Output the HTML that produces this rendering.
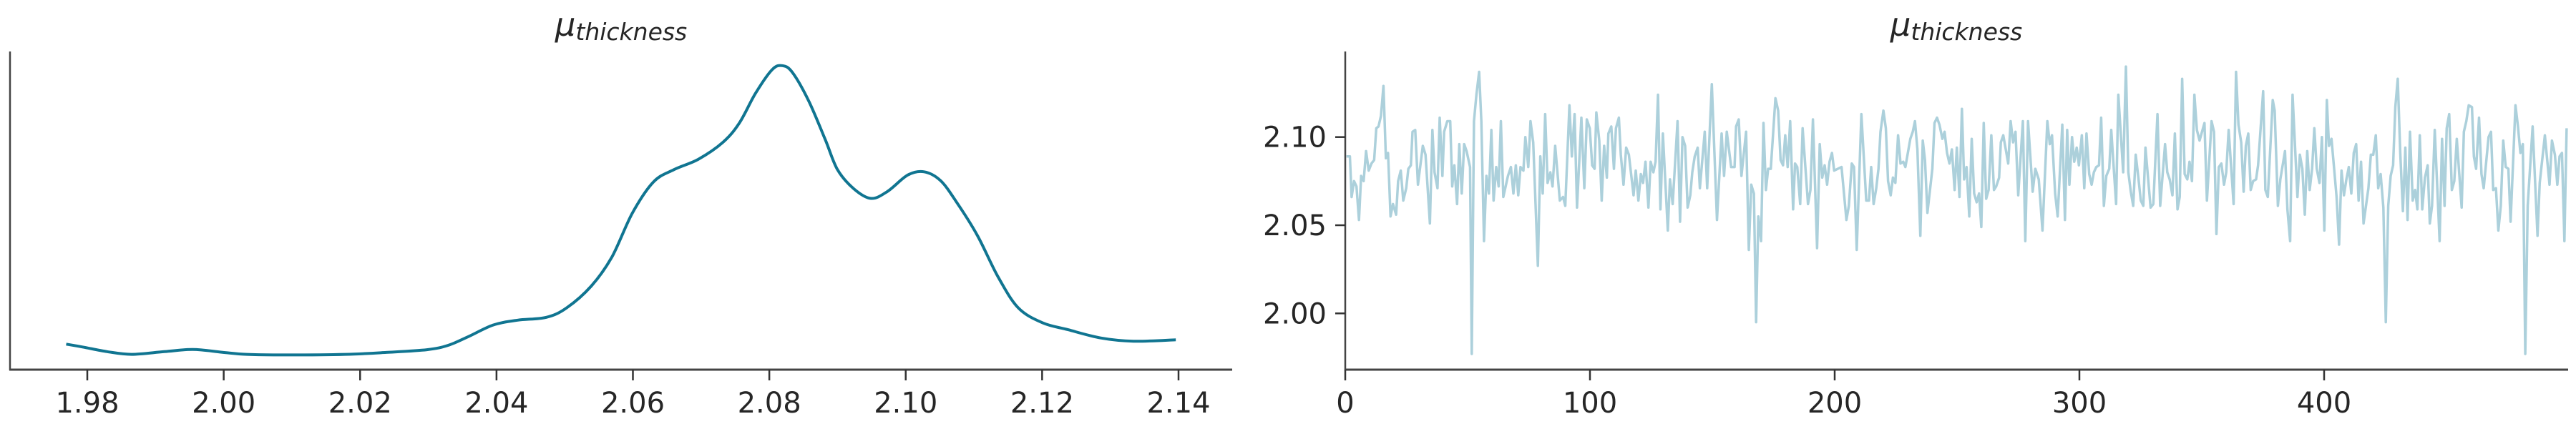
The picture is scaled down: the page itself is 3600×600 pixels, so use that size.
<!DOCTYPE html>
<html><head><meta charset="utf-8"><style>
html,body{margin:0;padding:0;background:#fff;}
svg{display:block;}
text{font-family:"DejaVu Sans","Liberation Sans",sans-serif;fill:#262626;}
</style></head><body>
<svg id="chart" width="3600" height="600" viewBox="0 0 3600 600" xmlns="http://www.w3.org/2000/svg">
<g id="left">
 <text x="868" y="50" text-anchor="middle"><tspan font-style="italic" font-size="45">μ</tspan><tspan font-style="italic" font-size="33" dy="6">thickness</tspan></text>
 <line x1="14" y1="72" x2="14" y2="518" stroke="#444" stroke-width="2.5"/>
 <line x1="13" y1="517" x2="1722" y2="517" stroke="#444" stroke-width="3"/>
 <g id="lticks"></g>
 <path id="kde" fill="none" stroke="#107591" stroke-width="4" stroke-linejoin="round"/>
</g>
<g id="right">
 <text x="2734" y="50" text-anchor="middle"><tspan font-style="italic" font-size="45">μ</tspan><tspan font-style="italic" font-size="33" dy="6">thickness</tspan></text>
 <line x1="1880" y1="72" x2="1880" y2="518" stroke="#444" stroke-width="2.5"/>
 <line x1="1879" y1="517" x2="3589" y2="517" stroke="#444" stroke-width="3"/>
 <g id="rticks"></g>
 <path id="trace" fill="none" stroke="#acd0db" stroke-width="3.5" stroke-linejoin="round"/>
</g>
</svg>
<script>
const kdeX = [1.9769,1.9793,1.9829,1.9865,1.9913,1.9955,1.9997,2.0034,2.0094,2.0178,2.0238,2.0298,2.0329,2.0359,2.0395,2.0431,2.0473,2.0503,2.0539,2.0569,2.0599,2.0630,2.0660,2.0696,2.0732,2.0756,2.0780,2.0804,2.0819,2.0834,2.0858,2.0882,2.0900,2.0924,2.0949,2.0973,2.1003,2.1027,2.1051,2.1075,2.1105,2.1135,2.1165,2.1201,2.1238,2.1286,2.1334,2.1396];
const kdeY = [2.35,2.09,1.66,1.41,1.66,1.86,1.61,1.41,1.36,1.41,1.59,1.84,2.24,3.05,4.11,4.56,4.82,5.70,7.71,10.36,14.40,17.29,18.43,19.39,20.95,22.72,25.49,27.63,28.01,27.38,24.73,21.20,18.43,16.66,15.78,16.41,17.93,18.23,17.42,15.40,12.38,8.60,5.70,4.31,3.68,2.92,2.62,2.75];
const kdeTicks = [1.98,2.00,2.02,2.04,2.06,2.08,2.10,2.12,2.14];
const traceIter = [0.5,1.9,2.6,3.6,4.6,5.6,6.5,7.5,8.5,9.6,10.7,11.8,12.7,13.6,14.6,15.6,16.6,17.5,18.5,19.5,20.8,21.6,22.7,23.7,24.9,25.8,26.8,27.5,28.6,29.7,31.7,32.8,34.6,35.6,36.5,37.7,38.6,39.7,40.4,41.7,42.9,43.7,44.6,45.7,46.6,47.6,48.6,49.6,51.0,51.7,52.6,53.6,54.7,55.6,56.7,57.7,58.7,59.7,60.6,61.7,62.7,63.6,64.6,66.5,67.7,68.7,69.7,70.7,71.6,72.8,73.6,74.8,75.7,76.8,78.7,79.7,80.7,81.7,82.7,83.8,84.7,85.8,87.7,89.0,89.9,91.6,92.6,93.7,94.7,96.5,97.7,98.7,99.9,100.9,
101.9,102.6,103.8,104.8,105.8,106.9,107.5,108.7,109.8,110.6,111.8,112.6,113.7,114.8,115.9,117.8,118.7,119.8,120.8,121.7,122.7,123.9,124.8,125.9,126.8,127.8,128.8,129.8,131.8,132.7,133.8,135.8,136.8,137.8,138.9,139.9,141.0,141.8,142.8,144.0,144.9,146.9,147.9,149.8,151.9,153.8,154.8,155.9,157.7,159.1,159.7,160.8,161.9,163.8,164.9,165.9,167.0,167.9,168.8,169.9,170.9,171.9,172.8,173.9,175.8,176.9,177.9,178.9,179.8,180.8,181.8,183.0,183.8,184.7,185.9,186.9,189.1,190.1,191.1,192.8,193.9,194.9,195.9,196.9,197.9,198.9,199.8,
202.8,204.8,205.8,207.0,207.9,209.0,210.9,212.9,214.0,214.9,215.9,217.0,217.9,218.7,219.9,220.9,221.8,222.9,223.8,224.8,225.9,226.9,228.0,228.9,230.9,231.9,232.8,233.8,235.0,236.0,236.9,237.9,239.9,240.8,241.8,242.8,244.0,244.9,245.9,246.9,247.9,249.0,249.9,251.0,252.0,252.9,253.9,255.0,256.0,257.0,258.0,259.0,259.9,260.9,261.9,262.9,264.0,265.1,266.0,267.2,267.9,268.9,269.9,270.9,271.9,272.9,273.9,275.0,276.9,277.9,279.0,280.9,282.0,283.4,284.9,286.9,287.9,288.8,290.1,291.1,293.0,294.1,295.0,295.9,297.0,297.9,298.9,299.8,
301.0,302.0,302.9,304.0,305.0,305.9,306.9,308.0,308.9,310.0,311.0,312.2,313.0,315.0,315.9,317.9,319.0,320.0,321.0,322.0,323.0,324.1,325.1,326.1,327.0,329.1,330.2,331.9,333.0,335.0,335.9,336.9,338.0,339.0,340.1,341.0,342.0,343.0,344.1,345.0,346.0,347.0,348.0,349.1,351.1,352.1,354.0,355.0,356.0,357.0,358.0,359.1,360.0,361.0,363.0,364.0,365.0,366.1,367.1,368.0,369.0,370.0,371.0,372.2,373.0,375.1,376.0,377.0,379.0,379.8,381.1,382.1,384.0,385.0,386.1,387.1,389.1,390.1,391.1,392.1,393.1,394.1,395.1,396.0,397.0,398.1,399.1,400.1,
401.1,402.0,403.0,404.1,405.1,406.1,407.1,408.1,409.1,410.1,411.1,412.1,413.1,414.1,415.1,416.1,418.1,419.1,420.1,421.1,422.1,423.1,424.2,425.2,426.2,427.2,428.2,429.1,430.1,431.1,432.2,433.2,434.1,435.1,436.2,437.2,438.1,439.1,440.1,441.2,442.3,443.2,444.1,445.2,447.2,448.2,449.2,450.1,451.1,452.2,453.2,454.2,456.2,457.1,458.1,459.1,460.4,461.2,462.1,463.3,464.3,465.2,467.2,468.2,469.1,470.2,471.2,472.2,473.2,474.2,475.3,476.2,478.2,479.2,480.2,481.2,482.2,483.2,485.2,487.2,488.1,490.2,492.1,493.1,494.3,495.3,496.2,497.2,498.2,499.1];
const traceVal = [2.089,2.089,2.066,2.075,2.072,2.053,2.078,2.075,2.092,2.081,2.085,2.087,2.105,2.106,2.112,2.129,2.088,2.091,2.055,2.062,2.056,2.075,2.081,2.064,2.071,2.082,2.084,2.103,2.104,2.073,2.095,2.090,2.051,2.104,2.080,2.071,2.111,2.078,2.103,2.109,2.109,2.072,2.084,2.062,2.096,2.068,2.096,2.092,2.083,1.977,2.109,2.124,2.137,2.109,2.041,2.078,2.068,2.104,2.064,2.083,2.072,2.109,2.066,2.078,2.083,2.068,2.084,2.067,2.083,2.081,2.100,2.083,2.109,2.097,2.027,2.089,2.068,2.113,2.074,2.080,2.072,2.095,2.064,2.066,2.061,2.118,2.089,2.113,2.060,2.111,2.071,2.110,2.105,2.084,
2.082,2.114,2.098,2.064,2.095,2.077,2.102,2.106,2.082,2.105,2.111,2.090,2.073,2.094,2.090,2.067,2.081,2.064,2.079,2.074,2.086,2.060,2.086,2.080,2.086,2.124,2.059,2.102,2.047,2.076,2.062,2.109,2.052,2.100,2.095,2.060,2.067,2.080,2.089,2.094,2.071,2.103,2.071,2.130,2.053,2.102,2.078,2.103,2.083,2.083,2.106,2.110,2.078,2.103,2.036,2.073,2.068,1.995,2.055,2.041,2.108,2.070,2.082,2.082,2.122,2.115,2.087,2.084,2.101,2.083,2.109,2.059,2.085,2.083,2.062,2.105,2.062,2.070,2.110,2.037,2.096,2.077,2.084,2.073,2.086,2.091,2.081,
2.083,2.053,2.061,2.085,2.083,2.036,2.113,2.064,2.064,2.083,2.062,2.071,2.082,2.103,2.115,2.105,2.075,2.067,2.077,2.074,2.101,2.085,2.086,2.083,2.099,2.103,2.109,2.093,2.044,2.098,2.087,2.057,2.082,2.108,2.111,2.107,2.099,2.103,2.091,2.085,2.093,2.070,2.094,2.066,2.116,2.076,2.083,2.055,2.099,2.068,2.063,2.068,2.049,2.108,2.065,2.070,2.101,2.070,2.072,2.077,2.097,2.101,2.093,2.085,2.109,2.097,2.103,2.067,2.109,2.041,2.109,2.069,2.082,2.076,2.047,2.109,2.096,2.101,2.068,2.055,2.107,2.053,2.104,2.073,2.100,2.086,2.094,2.084,
2.101,2.071,2.102,2.079,2.073,2.080,2.083,2.084,2.111,2.061,2.078,2.082,2.104,2.062,2.124,2.080,2.140,2.080,2.069,2.061,2.090,2.077,2.064,2.061,2.094,2.060,2.062,2.113,2.061,2.096,2.080,2.076,2.067,2.102,2.059,2.066,2.133,2.079,2.076,2.086,2.075,2.124,2.104,2.098,2.108,2.064,2.109,2.103,2.045,2.083,2.085,2.073,2.080,2.104,2.062,2.137,2.107,2.097,2.069,2.095,2.102,2.070,2.075,2.076,2.084,2.126,2.070,2.066,2.121,2.115,2.061,2.076,2.092,2.059,2.041,2.124,2.066,2.090,2.082,2.056,2.092,2.070,2.082,2.105,2.082,2.074,2.100,2.047,
2.121,2.095,2.099,2.082,2.066,2.039,2.081,2.067,2.076,2.083,2.068,2.091,2.096,2.064,2.086,2.051,2.071,2.090,2.090,2.101,2.071,2.079,2.060,1.995,2.061,2.078,2.084,2.117,2.133,2.091,2.058,2.094,2.053,2.103,2.064,2.070,2.059,2.101,2.059,2.077,2.084,2.051,2.061,2.104,2.041,2.099,2.061,2.105,2.113,2.070,2.075,2.099,2.060,2.103,2.109,2.118,2.117,2.089,2.082,2.111,2.079,2.071,2.100,2.103,2.070,2.071,2.047,2.061,2.098,2.083,2.082,2.052,2.118,2.106,2.091,2.096,1.977,2.061,2.106,2.044,2.074,2.101,2.073,2.098,2.090,2.073,2.089,2.091,2.041,2.105];
const traceXTicks = [0,100,200,300,400];
const traceYTicks = [2.00,2.05,2.10];

const NS = "http://www.w3.org/2000/svg";
const kx = v => 122 + (v - 1.98) * (1525 / 0.16);
const ky = d => 517 - d * (425 / 28);
const tx = i => 1880 + i * 3.42;
const ty = v => 191.7 + (2.10 - v) * 2466;

function mk(tag, attrs, parent) {
  const el = document.createElementNS(NS, tag);
  for (const k in attrs) el.setAttribute(k, attrs[k]);
  parent.appendChild(el);
  return el;
}

function smoothPath(pts) {
  let d = 'M' + pts[0][0].toFixed(1) + ',' + pts[0][1].toFixed(1);
  for (let i = 0; i < pts.length - 1; i++) {
    const p0 = pts[Math.max(0, i - 1)], p1 = pts[i], p2 = pts[i + 1], p3 = pts[Math.min(pts.length - 1, i + 2)];
    const c1x = p1[0] + (p2[0] - p0[0]) / 6, c1y = p1[1] + (p2[1] - p0[1]) / 6;
    const c2x = p2[0] - (p3[0] - p1[0]) / 6, c2y = p2[1] - (p3[1] - p1[1]) / 6;
    d += 'C' + c1x.toFixed(1) + ',' + c1y.toFixed(1) + ' ' + c2x.toFixed(1) + ',' + c2y.toFixed(1) + ' ' + p2[0].toFixed(1) + ',' + p2[1].toFixed(1);
  }
  return d;
}

document.getElementById('kde').setAttribute('d', smoothPath(kdeX.map((x, i) => [kx(x), ky(kdeY[i])])));
document.getElementById('trace').setAttribute('d', traceIter.map((x, i) => (i ? 'L' : 'M') + tx(x).toFixed(1) + ',' + ty(traceVal[i]).toFixed(1)).join(''));

const lt = document.getElementById('lticks');
kdeTicks.forEach(t => {
  const l = mk('line', {x1: kx(t), x2: kx(t), y1: 517, y2: 532, stroke: '#333', 'stroke-width': 2.5}, lt);
  
  
  const tt = mk('text', {x: kx(t), y: 577, 'text-anchor': 'middle', 'font-size': 40}, lt);
  tt.textContent = t.toFixed(2);
  
  
});
const rt = document.getElementById('rticks');
traceXTicks.forEach(t => {
  const l = mk('line', {x1: tx(t), x2: tx(t), y1: 517, y2: 532, stroke: '#333', 'stroke-width': 2.5}, rt);
  
  
  const tt = mk('text', {x: tx(t), y: 577, 'text-anchor': 'middle', 'font-size': 40}, rt);
  tt.textContent = String(t);
  
  
});
traceYTicks.forEach(t => {
  const l = mk('line', {x1: 1866, x2: 1880, y1: ty(t), y2: ty(t), stroke: '#333', 'stroke-width': 2.5}, rt);
  
  
  const tt = mk('text', {x: 1854, y: ty(t) + 14, 'text-anchor': 'end', 'font-size': 40}, rt);
  tt.textContent = t.toFixed(2);
  
  
});
</script>
</body></html>
